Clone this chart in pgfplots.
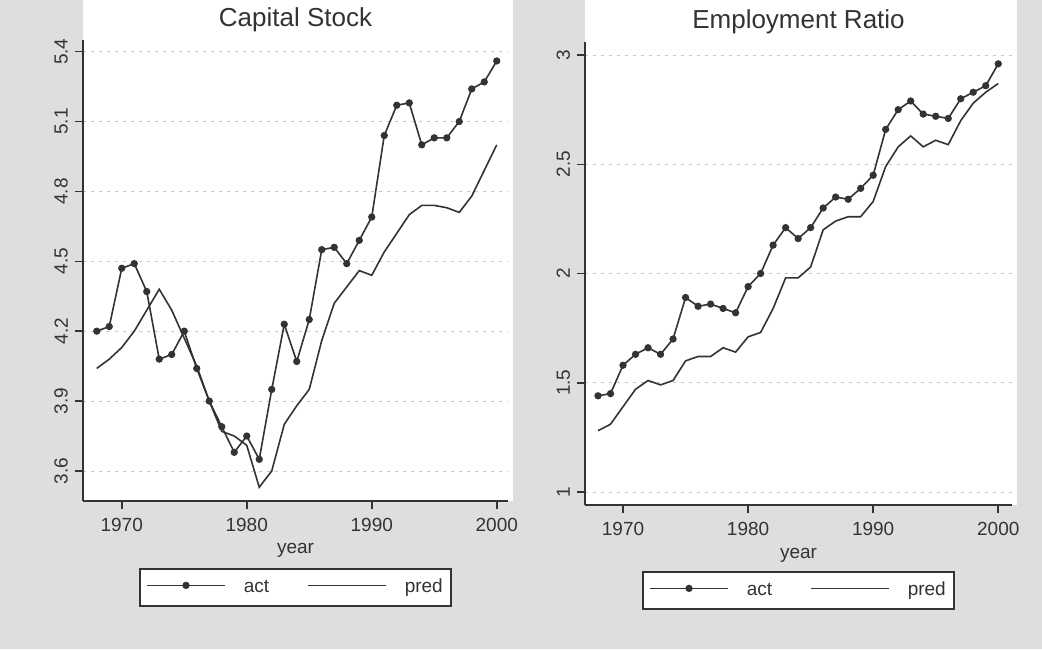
\documentclass[border=0pt]{standalone}
\usepackage{fontspec}
\setmainfont{Liberation Sans}
\usepackage{pgfplots}
\usepackage{pgfplotstable}
\pgfplotsset{compat=1.18}

\definecolor{ink}{gray}{0.2}
\definecolor{paper}{gray}{0.87}

% capital stock: actual and predicted
\pgfplotstableread{
year act pred
1968 4.20 4.04
1969 4.22 4.08
1970 4.47 4.13
1971 4.49 4.20
1972 4.37 4.29
1973 4.08 4.38
1974 4.10 4.29
1975 4.20 4.17
1976 4.04 4.05
1977 3.90 3.90
1978 3.79 3.77
1979 3.68 3.75
1980 3.75 3.71
1981 3.65 3.53
1982 3.95 3.60
1983 4.23 3.80
1984 4.07 3.88
1985 4.25 3.95
1986 4.55 4.16
1987 4.56 4.32
1988 4.49 4.39
1989 4.59 4.46
1990 4.69 4.44
1991 5.04 4.54
1992 5.17 4.62
1993 5.18 4.70
1994 5.00 4.74
1995 5.03 4.74
1996 5.03 4.73
1997 5.10 4.71
1998 5.24 4.78
1999 5.27 4.89
2000 5.36 5.00
}\capital

% employment ratio: actual and predicted
\pgfplotstableread{
year act pred
1968 1.44 1.28
1969 1.45 1.31
1970 1.58 1.39
1971 1.63 1.47
1972 1.66 1.51
1973 1.63 1.49
1974 1.70 1.51
1975 1.89 1.60
1976 1.85 1.62
1977 1.86 1.62
1978 1.84 1.66
1979 1.82 1.64
1980 1.94 1.71
1981 2.00 1.73
1982 2.13 1.84
1983 2.21 1.98
1984 2.16 1.98
1985 2.21 2.03
1986 2.30 2.20
1987 2.35 2.24
1988 2.34 2.26
1989 2.39 2.26
1990 2.45 2.33
1991 2.66 2.49
1992 2.75 2.58
1993 2.79 2.63
1994 2.73 2.58
1995 2.72 2.61
1996 2.71 2.59
1997 2.80 2.70
1998 2.83 2.78
1999 2.86 2.83
2000 2.96 2.87
}\employ

\pgfplotsset{
  stata/.style={
    scale only axis, anchor=south west,
    axis x line*=bottom, axis y line*=left,
    axis line style={-, ink, line width=0.9pt},
    tick align=outside, major tick length=4pt,
    tick style={ink, line width=0.8pt},
    xtick={1970,1980,1990,2000},
    ymajorgrids,
    major grid style={black!22, dash pattern=on 1.5pt off 2.5pt, line width=0.4pt},
    tick label style={font=\fontsize{9.5}{11}\selectfont, text=ink},
    /pgf/number format/assume math mode=true,
    xticklabel style={/pgf/number format/1000 sep={}, yshift=-1pt},
    yticklabel style={rotate=90, anchor=south},
    xlabel={year},
    xlabel style={at={(axis description cs:0.5,-0.108)}, anchor=center,
      font=\fontsize{9.5}{11}\selectfont, text=ink},
    title style={at={(axis description cs:0.5,1)}, anchor=center, yshift=4pt,
      font=\fontsize{13}{15}\selectfont, text=ink},
    axis background/.style={fill=white},
    legend columns=2,
    legend style={at={(0.5,-0.1453)}, anchor=north, draw=ink, line width=1pt,
      fill=white, inner xsep=3pt, inner ysep=4pt,
      nodes={inner sep=1pt, text=ink, font=\fontsize{9.5}{11}\selectfont},
      /tikz/every odd column/.append style={column sep=8pt},
      /tikz/every even column/.append style={column sep=18pt}},
    legend image code/.code={
      \draw[#1,mark repeat=2,mark phase=2] plot coordinates {(0pt,1pt) (19.5pt,1pt) (39pt,1pt)};
    },
  },
  act/.style={ink, line width=0.8pt, mark=*, mark size=1.4pt, mark options={solid}},
  pred/.style={ink, line width=0.8pt, no markers},
}

\begin{document}
\begin{tikzpicture}
\fill[paper] (0,0) rectangle (521pt,324.5pt);
\fill[white] (41.5pt,74pt) rectangle (256.5pt,324.5pt);
\fill[white] (292.5pt,72pt) rectangle (508.5pt,324.5pt);

\begin{axis}[stata,
    at={(41.5pt,74pt)}, width=212.5pt, height=230.5pt,
    title={Capital Stock},
    xmin=1966.9, xmax=2000.9, ymin=3.471, ymax=5.45,
    ytick={3.6,3.9,4.2,4.5,4.8,5.1,5.4},
    yticklabel style={/pgf/number format/.cd, fixed, precision=1, fixed zerofill},
]
\addplot[act] table[x=year, y=act] {\capital};
\addlegendentry{act}
\addplot[pred] table[x=year, y=pred] {\capital};
\addlegendentry{pred}
\end{axis}

\begin{axis}[stata,
    at={(292.5pt,72pt)}, width=213.5pt, height=231.5pt,
    title={Employment Ratio},
    xmin=1966.96, xmax=2001.1, ymin=0.94, ymax=3.06,
    ytick={1,1.5,2,2.5,3},
    legend style={at={(0.5,-0.1425)}},
]
\addplot[act] table[x=year, y=act] {\employ};
\addlegendentry{act}
\addplot[pred] table[x=year, y=pred] {\employ};
\addlegendentry{pred}
\end{axis}

\pgfresetboundingbox
\path[use as bounding box] (0,0) rectangle (521pt,324.5pt);
\end{tikzpicture}
\end{document}
